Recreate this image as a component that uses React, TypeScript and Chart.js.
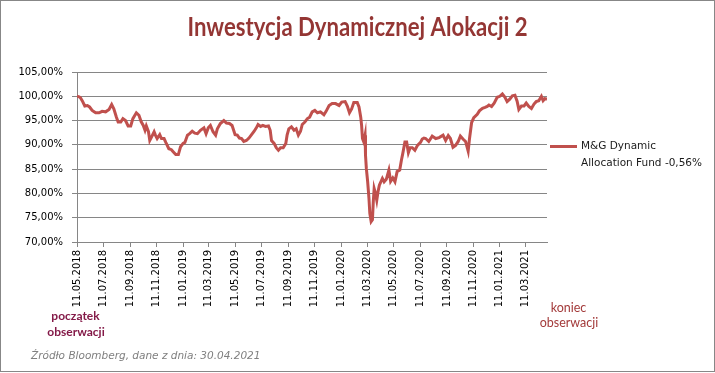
import React, { useEffect, useRef } from "react";
import { Chart, registerables } from "chart.js";

Chart.register(...registerables);

// ---- data ----
const START_DATE = "11.05.2018";
const END_DATE = "30.04.2021";

// days since START_DATE
const dayOffsets = [
  0, 5, 8, 12, 18, 24, 29, 35, 43, 51, 58, 66, 74, 80, 85, 91, 95, 101, 106, 112,
  118, 124, 129, 137, 143, 148, 153, 157, 160, 165, 168, 172, 178, 181, 185, 191, 195, 201, 205, 212,
  218, 222, 228, 234, 239, 245, 249, 255, 260, 266, 272, 278, 285, 293, 298, 303, 308, 314, 320, 324,
  331, 339, 345, 352, 358, 365, 370, 375, 380, 385, 391, 397, 403, 409, 414, 418, 424, 429, 435, 442,
  446, 449, 455, 460, 465, 470, 476, 482, 485, 489, 495, 501, 506, 511, 516, 520, 526, 532, 537, 543,
  549, 555, 562, 570, 575, 582, 589, 597, 605, 611, 619, 624, 629, 634, 639, 647, 651, 655, 657, 659,
  662, 665, 666, 668, 671, 674, 676, 679, 682, 684, 686, 689, 692, 695, 698, 705, 709, 714, 720, 724,
  729, 734, 739, 745, 749, 752, 757, 761, 765, 769, 774, 780, 786, 793, 797, 801, 805, 812, 820, 828,
  836, 845, 851, 857, 862, 868, 874, 880, 885, 891, 897, 903, 906, 911, 916, 924, 929, 936, 942, 947,
  951, 957, 963, 970, 976, 982, 988, 993, 999, 1005, 1011, 1016, 1020, 1026, 1032, 1037, 1043, 1049, 1055, 1060,
  1066, 1072, 1076, 1080, 1085,
];

// fund value, % of start
const fundValues = [
  100.0, 99.9, 99.7, 99.1, 98.0, 98.1, 97.8, 97.1, 96.6, 96.6, 96.9, 96.8, 97.3, 98.3, 97.4, 95.7, 94.7, 94.7, 95.4, 95.0,
  93.9, 93.9, 95.4, 96.6, 96.1, 94.8, 94.0, 93.0, 93.9, 92.7, 90.9, 91.6, 92.7, 92.0, 91.3, 92.1, 91.3, 91.3, 90.5, 89.2,
  89.0, 88.6, 88.0, 88.0, 89.6, 90.3, 90.5, 92.0, 92.3, 92.8, 92.4, 92.3, 93.0, 93.5, 92.3, 93.5, 94.0, 92.7, 92.0, 93.3,
  94.4, 95.0, 94.5, 94.4, 94.0, 92.1, 92.0, 91.4, 91.3, 90.7, 90.9, 91.4, 92.1, 92.8, 93.5, 94.2, 93.8, 94.0, 93.8, 93.9,
  93.0, 90.9, 90.3, 89.4, 88.9, 89.4, 89.4, 90.3, 92.0, 93.3, 93.7, 93.0, 93.3, 92.0, 92.8, 94.2, 94.7, 95.4, 95.7, 96.8,
  97.1, 96.6, 96.8, 96.2, 96.9, 98.1, 98.5, 98.5, 98.1, 98.8, 98.9, 98.0, 96.6, 97.4, 98.7, 98.7, 97.8, 95.7, 94.0, 91.3,
  90.6, 92.0, 87.9, 85.1, 82.4, 79.0, 75.9, 74.2, 74.6, 78.3, 81.0, 80.0, 78.6, 80.4, 81.7, 83.1, 82.4, 82.9, 84.8, 82.5,
  83.2, 82.4, 84.5, 84.8, 86.9, 88.2, 90.6, 90.6, 88.4, 89.4, 89.4, 88.9, 89.9, 90.5, 91.2, 91.4, 91.3, 90.7, 91.8, 91.3,
  91.5, 92.0, 90.9, 91.9, 91.3, 89.5, 89.9, 90.7, 91.8, 91.2, 90.7, 88.7, 91.2, 94.6, 95.6, 96.3, 97.0, 97.5, 97.7, 97.9,
  98.2, 97.9, 98.6, 99.8, 100.0, 100.5, 99.8, 98.9, 99.4, 100.1, 100.2, 99.0, 97.3, 98.0, 98.0, 98.6, 97.9, 97.5, 98.4, 98.9,
  99.1, 100.0, 99.1, 99.5, 99.44,
];

const tickDates = [
  "11.05.2018", "11.07.2018", "11.09.2018", "11.11.2018",
  "11.01.2019", "11.03.2019", "11.05.2019", "11.07.2019", "11.09.2019", "11.11.2019",
  "11.01.2020", "11.03.2020", "11.05.2020", "11.07.2020", "11.09.2020", "11.11.2020",
  "11.01.2021", "11.03.2021",
];

const Y_MIN = 70;
const Y_MAX = 105;
const Y_STEP = 5;

const titleText = "Inwestycja Dynamicznej Alokacji 2";
const seriesLines = ["M&G Dynamic", "Allocation Fund -0,56%"];
const startNote = ["początek", "obserwacji"];
const endNote = ["koniec", "obserwacji"];
const sourceNote = "Źródło Bloomberg, dane z dnia: 30.04.2021";

const LINE_COLOR = "#C0504D";
const GRID_COLOR = "#868686";

function parseDate(s: string): number {
  const [d, m, y] = s.split(".").map(Number);
  return Date.UTC(y, m - 1, d);
}
const DAY = 86400000;
const startMs = parseDate(START_DATE);
const dayOf = (s: string) => Math.round((parseDate(s) - startMs) / DAY);
const tickPositions = tickDates.map(dayOf);
const lastDay = dayOf(END_DATE);

const decorPlugin = {
  id: "decor",
  afterDraw(chart: any) {
    const ctx = chart.ctx as CanvasRenderingContext2D;
    ctx.save();
    // outer border
    ctx.strokeStyle = "#878787";
    ctx.lineWidth = 1;
    ctx.strokeRect(0.5, 0.5, 714, 371);

    // title
    ctx.fillStyle = "#943634";
    ctx.font = "bold 26px Lato";
    ctx.textAlign = "center";
    ctx.textBaseline = "alphabetic";
    ctx.fillText(titleText, 357.5, 36, 340);

    // legend
    ctx.strokeStyle = LINE_COLOR;
    ctx.lineWidth = 3;
    ctx.beginPath();
    ctx.moveTo(550, 146.5);
    ctx.lineTo(577, 146.5);
    ctx.stroke();
    ctx.fillStyle = "#1a1a1a";
    ctx.font = "10.5px 'DejaVu Sans'";
    ctx.textAlign = "left";
    ctx.textBaseline = "middle";
    ctx.fillText(seriesLines[0], 581, 146.5);
    ctx.fillText(seriesLines[1], 581, 163.5);

    // notes
    ctx.textAlign = "center";
    ctx.textBaseline = "alphabetic";
    ctx.fillStyle = "#841A48";
    ctx.font = "bold 12px Lato";
    ctx.fillText(startNote[0], 75.5, 320);
    ctx.fillText(startNote[1], 76, 335.5);

    ctx.fillStyle = "#A33A3A";
    ctx.font = "12.5px Lato";
    ctx.fillText(endNote[0], 568.5, 311.5);
    ctx.fillText(endNote[1], 569, 326.5);

    ctx.fillStyle = "#7F7F7F";
    ctx.font = "italic 10.5px 'DejaVu Sans'";
    ctx.textAlign = "left";
    ctx.fillText(sourceNote, 31, 359);
    ctx.restore();
  },
};

export default function App() {
  const canvasRef = useRef<HTMLCanvasElement | null>(null);

  useEffect(() => {
    if (!canvasRef.current) return;
    const points = dayOffsets.map((d, i) => ({ x: d, y: fundValues[i] }));
    const chart = new Chart(canvasRef.current, {
      type: "line",
      data: {
        datasets: [
          {
            label: seriesLines.join(" "),
            data: points,
            borderColor: LINE_COLOR,
            backgroundColor: LINE_COLOR,
            borderWidth: 3,
            pointRadius: 0,
            tension: 0,
            fill: false,
          },
        ],
      },
      options: {
        animation: false,
        responsive: false,
        devicePixelRatio: 1,
        layout: { padding: { top: 72, right: 168, left: 0, bottom: 0 } },
        plugins: {
          legend: { display: false },
          title: { display: false },
          tooltip: { enabled: false },
        },
        scales: {
          x: {
            type: "linear",
            min: 0,
            max: lastDay,
            afterBuildTicks: (scale: any) => {
              scale.ticks = tickPositions.map((v) => ({ value: v }));
            },
            afterFit: (scale: any) => {
              scale.height = 131;
            },
            ticks: {
              autoSkip: false,
              minRotation: 90,
              maxRotation: 90,
              padding: 3,
              color: "#000000",
              font: { family: "'DejaVu Sans'", size: 10 },
              callback: (_v: any, i: number) => tickDates[i],
            },
            grid: {
              drawOnChartArea: false,
              drawTicks: true,
              tickLength: 5,
              color: GRID_COLOR,
            },
            border: { display: true, color: GRID_COLOR },
          },
          y: {
            type: "linear",
            min: Y_MIN,
            max: Y_MAX,
            afterFit: (scale: any) => {
              scale.width = 77;
            },
            ticks: {
              stepSize: Y_STEP,
              padding: 9,
              color: "#000000",
              font: { family: "'DejaVu Sans'", size: 10 },
              callback: (v: any) => Number(v).toFixed(2).replace(".", ",") + "%",
            },
            grid: {
              color: GRID_COLOR,
              drawTicks: true,
              tickLength: 5,
            },
            border: { display: true, color: GRID_COLOR },
          },
        },
      },
      plugins: [decorPlugin],
    });
    return () => chart.destroy();
  }, []);

  return (
    <div
      style={{
        position: "absolute",
        left: 0,
        top: 0,
        width: 715,
        height: 373,
        background: "#ffffff",
      }}
    >
      <canvas ref={canvasRef} width={715} height={373} />
    </div>
  );
}
